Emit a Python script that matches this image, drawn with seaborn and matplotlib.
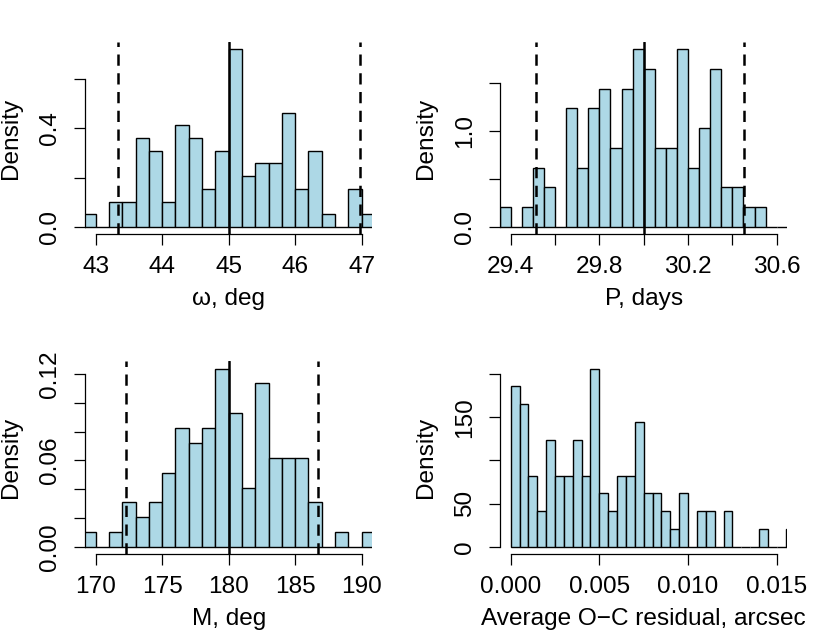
import numpy as np
import pandas as pd
import matplotlib
matplotlib.use("Agg")
import matplotlib.pyplot as plt
import seaborn as sns

# ---- data (histogram densities per bin) ----

# omega, deg : bins of 0.2 starting at 42.8
omega_start = 42.8
omega_width = 0.2
omega_density = [0.052, 0, 0.103, 0.103, 0.361, 0.309, 0.103, 0.412, 0.361, 0.155, 0.309,
                 0.722, 0.206, 0.258, 0.258, 0.464, 0.155, 0.309, 0.052, 0, 0.155, 0.052]
omega_lines = [43.34, 45.0, 46.98]

# P, days : bins of 0.05 starting at 29.35
period_start = 29.35
period_width = 0.05
period_density = [0.206, 0, 0.206, 0.619, 0.412, 0, 1.237, 0.619, 1.237, 1.443, 0.825,
                  1.443, 1.856, 1.649, 0.825, 0.825, 1.856, 0.619, 1.031, 1.649, 0.412,
                  0.412, 0.206, 0.206, 0, 0, 0.206]
period_lines = [29.514, 30.0, 30.452]

# M, deg : bins of 1 starting at 169
anom_start = 169
anom_width = 1
anom_density = [0.0103, 0, 0.0103, 0.0309, 0.0206, 0.0309, 0.0515, 0.0825, 0.0722, 0.0825,
                0.1237, 0.0928, 0.0412, 0.1134, 0.0619, 0.0619, 0.0619, 0.0309, 0, 0.0103,
                0, 0.0103]
anom_lines = [172.27, 180.0, 186.71]

# average O-C residual, arcsec : bins of 0.0005 starting at 0
resid_start = 0.0
resid_width = 0.0005
resid_density = [185.6, 165.0, 82.5, 41.2, 123.7, 82.5, 82.5, 123.7, 82.5, 206.2, 61.9,
                 41.2, 82.5, 82.5, 144.3, 61.9, 61.9, 41.2, 20.6, 61.9, 0, 41.2, 41.2, 0,
                 41.2, 0, 0, 0, 20.6, 0, 0, 20.6]

# ---- style ----
sns.set_theme(style="ticks")
plt.rcParams["font.family"] = ["Liberation Sans", "DejaVu Sans"]
FS = 17.6
plt.rcParams["font.size"] = FS

W, H = 830, 639
fig = plt.figure(figsize=(W / 100, H / 100), dpi=100)


def add_ax(left, top, w, h):
    return fig.add_axes([left / W, 1 - (top + h) / H, w / W, h / H])


def draw_panel(ax, start, width, dens, xlim, xticks, xticklabels,
               yticks, yticklabels, xlabel, lines=None):
    dens = np.asarray(dens, dtype=float)
    edges = start + width * np.arange(len(dens) + 1)
    centers = (edges[:-1] + edges[1:]) / 2
    df = pd.DataFrame({"value": centers, "density": dens})
    sns.histplot(data=df, x="value", weights="density", bins=list(edges),
                 stat="count", color="lightblue", edgecolor="black",
                 linewidth=1.0, alpha=1, ax=ax)
    if lines is not None:
        ax.axvline(lines[0], color="black", lw=1.8, ls=(0, (4.5, 3)))
        ax.axvline(lines[1], color="black", lw=1.8)
        ax.axvline(lines[2], color="black", lw=1.8, ls=(0, (4.5, 3)))

    # R style limits: 4% padding around range
    pad = 0.04 * (xlim[1] - xlim[0])
    ax.set_xlim(xlim[0] - pad, xlim[1] + pad)
    ymax = dens.max()
    ax.set_ylim(-0.04 * ymax, 1.04 * ymax)

    ax.set_xticks(xticks)
    ax.set_xticklabels(xticklabels)
    ax.set_yticks(yticks)
    ax.set_yticklabels(yticklabels, rotation=90, va="center")

    sns.despine(ax=ax)
    ax.spines["bottom"].set_bounds(xticks[0], xticks[-1])
    ax.spines["left"].set_bounds(yticks[0], yticks[-1])
    for s in ["bottom", "left"]:
        ax.spines[s].set_linewidth(0.9)
        ax.spines[s].set_color("black")
    ax.tick_params(axis="both", direction="out", length=8, width=0.9,
                   color="black", labelsize=FS, labelcolor="black")
    ax.tick_params(axis="x", pad=7.5)
    ax.tick_params(axis="y", pad=9)

    ax.set_xlabel(xlabel, fontsize=FS, color="black")
    ax.set_ylabel("Density", fontsize=FS, color="black")
    ax.xaxis.set_label_coords(0.5, -0.281)
    ax.yaxis.set_label_coords(-0.218, 0.5)
    ax.set_facecolor("white")
    ax.grid(False)


ax1 = add_ax(85, 42, 287.3, 192)
draw_panel(ax1, omega_start, omega_width, omega_density, (43, 47),
           [43, 44, 45, 46, 47], ["43", "44", "45", "46", "47"],
           [0, 0.2, 0.4, 0.6], ["0.0", "", "0.4", ""],
           "ω, deg", omega_lines)

ax2 = add_ax(500, 42, 287.4, 192)
draw_panel(ax2, period_start, period_width, period_density, (29.4, 30.6),
           [29.4, 29.6, 29.8, 30.0, 30.2, 30.4, 30.6],
           ["29.4", "", "29.8", "", "30.2", "", "30.6"],
           [0, 0.5, 1.0, 1.5], ["0.0", "", "1.0", ""],
           "P, days", period_lines)

ax3 = add_ax(85, 361.5, 287.3, 192.5)
draw_panel(ax3, anom_start, anom_width, anom_density, (170, 190),
           [170, 175, 180, 185, 190], ["170", "175", "180", "185", "190"],
           [0, 0.02, 0.04, 0.06, 0.08, 0.10, 0.12],
           ["0.00", "", "", "0.06", "", "", "0.12"],
           "M, deg", anom_lines)

ax4 = add_ax(500, 361.5, 287.4, 192.5)
draw_panel(ax4, resid_start, resid_width, resid_density, (0, 0.015),
           [0, 0.005, 0.010, 0.015], ["0.000", "0.005", "0.010", "0.015"],
           [0, 50, 100, 150, 200], ["0", "50", "", "150", ""],
           "Average O\u2212C residual, arcsec")

fig.savefig("out.png", dpi=100, facecolor="white")
